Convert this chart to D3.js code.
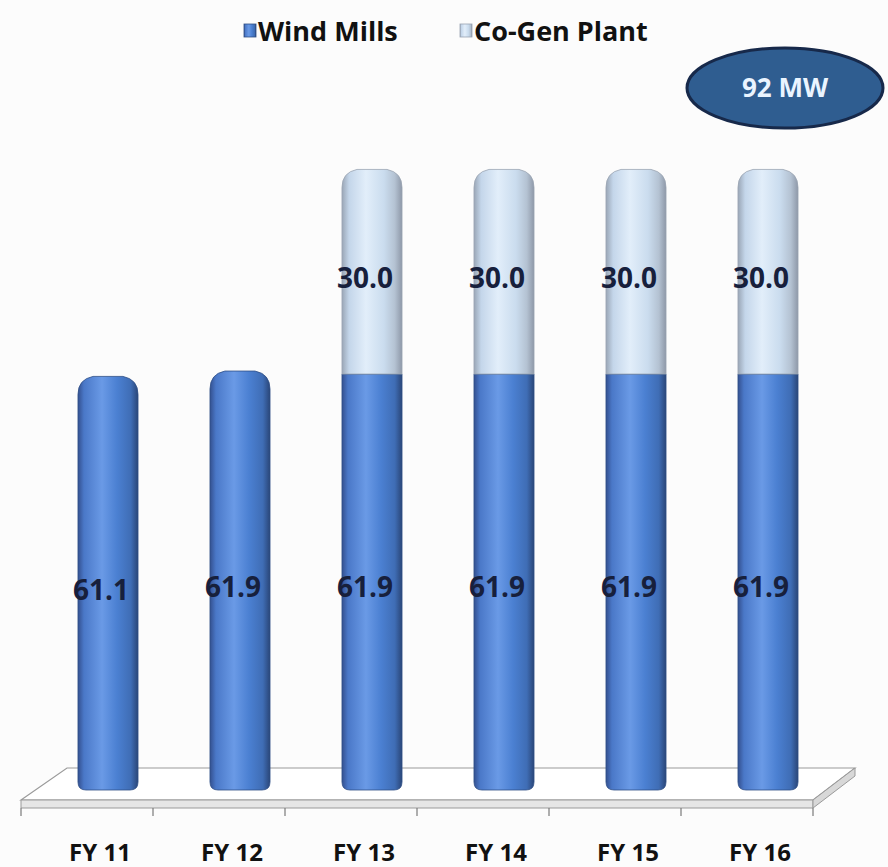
<!DOCTYPE html>
<html>
<head>
<meta charset="utf-8">
<script src="https://cdn.jsdelivr.net/npm/d3@7"></script>
<style>
  body { margin: 0; background: #fcfcfc; }
  svg { display: block; font-family: "Open Sans", Lato, sans-serif; }
</style>
</head>
<body>
<svg width="888" height="867"></svg>
<script>
// Data
var categories = ["FY 11", "FY 12", "FY 13", "FY 14", "FY 15", "FY 16"];
var windMills = [61.1, 61.9, 61.9, 61.9, 61.9, 61.9];
var coGen = [0, 0, 30.0, 30.0, 30.0, 30.0];
var seriesNames = ["Wind Mills", "Co-Gen Plant"];
var totalLabel = "92 MW";

var svg = d3.select("svg");

var rows = categories.map(function (c, i) {
  return { cat: c, wind: windMills[i], cogen: coGen[i] };
});
var stack = d3.stack().keys(["wind", "cogen"]);
var layers = stack(rows);

// Scales
var x = d3.scaleBand()
  .domain(categories)
  .range([42, 834])
  .paddingInner(0.545)
  .paddingOuter(0.2725);
var y = d3.scaleLinear().domain([0, 100]).range([790, 118]);

// Gradients for the cylinder look
var defs = svg.append("defs");
function cylGrad(id, stops) {
  var g = defs.append("linearGradient").attr("id", id)
    .attr("x1", "0%").attr("x2", "100%").attr("y1", "0%").attr("y2", "0%");
  stops.forEach(function (s) {
    g.append("stop").attr("offset", s[0]).attr("stop-color", s[1]);
  });
}
cylGrad("gWind", [["0%", "#34508f"], ["10%", "#4a78c8"], ["40%", "#6a9ae6"], ["65%", "#4b80d2"], ["88%", "#3f6db5"], ["100%", "#2a4678"]]);
cylGrad("gCogen", [["0%", "#9aa6b6"], ["12%", "#c4d6ea"], ["40%", "#e2eefa"], ["70%", "#cadcee"], ["88%", "#b4c2d2"], ["100%", "#8e98a8"]]);

// Floor (perspective base)
var base = y(0);
var backY = base - 22, frontY = base + 10;
var x0 = x.range()[0], x1 = x.range()[1];
var shift = 21;
var floor = svg.append("g");
floor.append("polygon")
  .attr("points", [[x0 - shift, frontY], [x0 + 25, backY], [x1 + shift, backY], [x1 - shift, frontY]].join(" "))
  .attr("fill", "#ffffff").attr("stroke", "#9a9a9a").attr("stroke-width", 1.2);
floor.append("polygon")
  .attr("points", [[x0 - shift, frontY], [x1 - shift, frontY], [x1 - shift, frontY + 8], [x0 - shift, frontY + 8]].join(" "))
  .attr("fill", "#e6e6e6").attr("stroke", "#9a9a9a").attr("stroke-width", 1);
floor.append("polygon")
  .attr("points", [[x1 - shift, frontY], [x1 + shift, backY], [x1 + shift, backY + 8], [x1 - shift, frontY + 8]].join(" "))
  .attr("fill", "#d8d8d8").attr("stroke", "#9a9a9a").attr("stroke-width", 1);

// ticks at band boundaries on the front edge
var bounds = categories.map(function (c) { return x(c) - x.step() * x.paddingInner() / 2; });
bounds.push(x1);
floor.selectAll("line.tick")
  .data(bounds)
  .enter().append("line")
  .attr("class", "tick")
  .attr("x1", function (d) { return d - shift; })
  .attr("x2", function (d) { return d - shift; })
  .attr("y1", frontY + 8)
  .attr("y2", frontY + 16)
  .attr("stroke", "#7a7a7a").attr("stroke-width", 1.2);

// Bars
function segPath(x0, w, yTop, yBot, roundTop, roundBot) {
  var r = 15, rb = 8;
  var p = d3.path();
  if (roundTop) {
    p.moveTo(x0, yTop + r);
    p.quadraticCurveTo(x0, yTop, x0 + r, yTop - 3);
    p.lineTo(x0 + w - r, yTop - 3);
    p.quadraticCurveTo(x0 + w, yTop, x0 + w, yTop + r);
  } else {
    p.moveTo(x0, yTop);
    p.lineTo(x0 + w, yTop);
  }
  if (roundBot) {
    p.lineTo(x0 + w, yBot - rb);
    p.quadraticCurveTo(x0 + w, yBot, x0 + w - rb, yBot);
    p.lineTo(x0 + rb, yBot);
    p.quadraticCurveTo(x0, yBot, x0, yBot - rb);
  } else {
    p.lineTo(x0 + w, yBot);
    p.lineTo(x0, yBot);
  }
  p.closePath();
  return p.toString();
}

var fills = { wind: "url(#gWind)", cogen: "url(#gCogen)" };
layers.forEach(function (layer) {
  svg.append("g").selectAll("path")
    .data(layer.filter(function (d) { return d[1] - d[0] > 0; }))
    .enter().append("path")
    .attr("d", function (d) {
      var isTop = d[1] === d.data.wind + d.data.cogen;
      return segPath(x(d.data.cat), x.bandwidth(), y(d[1]), y(d[0]), isTop, d[0] === 0);
    })
    .attr("fill", fills[layer.key])
    .attr("stroke", layer.key === "wind" ? "#2f4f86" : "#9aa4b2")
    .attr("stroke-width", 0.8);

  // value labels
  svg.append("g").selectAll("text")
    .data(layer.filter(function (d) { return d[1] - d[0] > 0; }))
    .enter().append("text")
    .attr("x", function (d) { return x(d.data.cat) + x.bandwidth() / 2 - 7; })
    .attr("y", function (d) { return (y(d[0]) + y(d[1])) / 2 + 15; })
    .attr("text-anchor", "middle")
    .attr("font-size", 28)
    .attr("font-weight", "bold")
    .attr("fill", "#17203c")
    .text(function (d) { return (d[1] - d[0]).toFixed(1); });
});

// Category labels
svg.append("g").selectAll("text")
  .data(categories)
  .enter().append("text")
  .attr("x", function (d) { return x(d) + x.bandwidth() / 2 - 8; })
  .attr("y", 861)
  .attr("text-anchor", "middle")
  .attr("font-size", 24)
  .attr("font-weight", "bold")
  .attr("fill", "#111")
  .text(function (d) { return d; });

// Legend
var legend = svg.append("g").attr("transform", "translate(244,20)");
var legX = [0, 216];
seriesNames.forEach(function (name, i) {
  var g = legend.append("g").attr("transform", "translate(" + legX[i] + ",0)");
  g.append("rect").attr("x", 0).attr("y", 4).attr("width", 12).attr("height", 13)
    .attr("fill", i === 0 ? "url(#gWind)" : "url(#gCogen)")
    .attr("stroke", i === 0 ? "#2f4f86" : "#9aa4b2").attr("stroke-width", 0.8);
  g.append("text").attr("x", 14).attr("y", 21)
    .attr("font-size", 27).attr("font-weight", "bold").attr("fill", "#111")
    .text(name);
});

// Total bubble
var bubble = svg.append("g").attr("transform", "translate(785,88)");
bubble.append("ellipse").attr("rx", 98).attr("ry", 40)
  .attr("fill", "#2f5d90").attr("stroke", "#17294a").attr("stroke-width", 3);
bubble.append("text").attr("y", 9).attr("text-anchor", "middle")
  .attr("font-size", 26).attr("font-weight", "bold").attr("fill", "#eaf4ff")
  .text(totalLabel);
</script>
</body>
</html>
